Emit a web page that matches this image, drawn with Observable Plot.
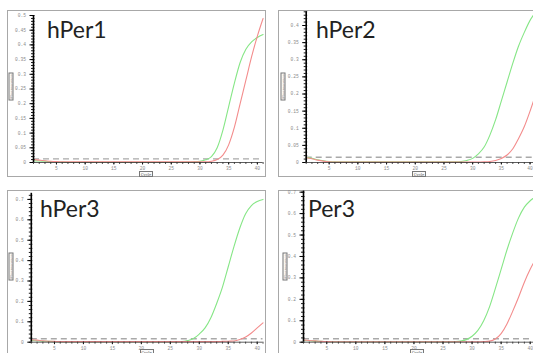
<!DOCTYPE html>
<html><head><meta charset="utf-8">
<script src="https://cdn.jsdelivr.net/npm/d3@7"></script>
<script src="https://cdn.jsdelivr.net/npm/@observablehq/plot@0.6"></script>
<style>
html,body{margin:0;padding:0;background:#fff;overflow:hidden;width:533px;height:353px;}
#root{position:relative;width:533px;height:353px;overflow:hidden;background:#fff;}
.panel{position:absolute;overflow:hidden;background:#fff;outline:1px solid #a8a8a8;outline-offset:-1px;}
.panel svg{position:absolute;left:0;top:0;background:transparent;}
.title{position:absolute;font-family:Lato,sans-serif;font-size:23px;line-height:23px;color:#222;white-space:nowrap;}
.ylab{position:absolute;width:28px;height:5px;box-sizing:border-box;border:0.6px solid #777;background:#fafafa;font-family:"DejaVu Serif",serif;font-size:3.6px;line-height:4px;text-align:center;color:#666;transform:rotate(-90deg);white-space:nowrap;overflow:hidden;}
.xlab{position:absolute;width:14px;height:6px;box-sizing:border-box;border:0.6px solid #777;background:#fafafa;font-family:"DejaVu Serif",serif;font-size:3.8px;line-height:5px;text-align:center;color:#555;white-space:nowrap;overflow:hidden;}
</style></head>
<body><div id="root"></div>
<script>
// ---- data ----
const cycles = [1,2,3,4,5,6,7,8,9,10,11,12,13,14,15,16,17,18,19,20,21,22,23,24,25,26,27,28,29,30,31,32,33,34,35,36,37,38,39,40,41];
const titles = ["hPer1","hPer2","hPer3","Per3"];
const xTicks = [5,10,15,20,25,30,35,40];
const yTicks1 = [0,0.05,0.1,0.15,0.2,0.25,0.3,0.35,0.4,0.45,0.5];
const yTicks2 = [0,0.05,0.1,0.15,0.2,0.25,0.3,0.35,0.4];
const yTicks3 = [0,0.1,0.2,0.3,0.4,0.5,0.6,0.7];
const yTicks4 = [0,0.1,0.2,0.3,0.4,0.5,0.6,0.7];
const thresholds = [0.0125, 0.0155, 0.017, 0.016];
const yMaxes = [0.5, 0.44, 0.73, 0.705];

const green1 = [0.006,0.005,0.004,0.003,0.002,0.0015,0.001,0.001,0.001,0.001,0.001,0.001,0.001,0.001,0.001,0.001,0.001,0.001,0.001,0.001,0.001,0.001,0.001,0.001,0.001,0.001,0.001,0.0015,0.002,0.004,0.009,0.02,0.05,0.11,0.19,0.27,0.34,0.385,0.41,0.425,0.435];
const red1   = [0.01,0.008,0.006,0.004,0.003,0.0025,0.002,0.002,0.002,0.002,0.002,0.002,0.002,0.002,0.002,0.002,0.002,0.002,0.002,0.002,0.002,0.002,0.002,0.002,0.002,0.002,0.002,0.002,0.002,0.002,0.002,0.004,0.01,0.025,0.06,0.12,0.2,0.28,0.36,0.43,0.49];
const green2 = [0.015,0.012,0.008,0.005,0.003,0.002,0.002,0.002,0.002,0.002,0.002,0.002,0.002,0.002,0.002,0.002,0.002,0.002,0.002,0.002,0.002,0.002,0.002,0.002,0.002,0.002,0.002,0.003,0.006,0.012,0.025,0.045,0.08,0.125,0.18,0.235,0.29,0.34,0.38,0.415,0.44];
const red2   = [0.014,0.011,0.007,0.004,0.002,0.001,0.001,0.001,0.001,0.001,0.001,0.001,0.001,0.001,0.001,0.001,0.001,0.001,0.001,0.001,0.001,0.001,0.001,0.001,0.001,0.001,0.001,0.001,0.001,0.001,0.0015,0.002,0.003,0.006,0.012,0.022,0.04,0.07,0.105,0.15,0.2];
const green3 = [0.008,0.007,0.005,0.004,0.003,0.002,0.002,0.002,0.002,0.002,0.002,0.002,0.002,0.002,0.002,0.002,0.002,0.002,0.002,0.002,0.002,0.002,0.002,0.002,0.002,0.0025,0.003,0.008,0.018,0.04,0.07,0.12,0.19,0.27,0.37,0.47,0.56,0.63,0.67,0.69,0.70];
const red3   = [0.012,0.01,0.007,0.005,0.004,0.003,0.003,0.003,0.003,0.003,0.003,0.003,0.003,0.003,0.003,0.003,0.003,0.003,0.003,0.003,0.003,0.003,0.003,0.003,0.003,0.003,0.003,0.003,0.003,0.003,0.003,0.003,0.003,0.004,0.005,0.006,0.013,0.025,0.045,0.07,0.095];
const green4 = [0.008,0.007,0.005,0.004,0.003,0.002,0.002,0.002,0.002,0.002,0.002,0.002,0.002,0.002,0.002,0.002,0.002,0.002,0.002,0.002,0.002,0.002,0.002,0.002,0.002,0.002,0.003,0.005,0.012,0.028,0.055,0.10,0.165,0.25,0.34,0.43,0.51,0.58,0.63,0.66,0.68];
const red4   = [0.01,0.008,0.006,0.004,0.003,0.002,0.002,0.002,0.002,0.002,0.002,0.002,0.002,0.002,0.002,0.002,0.002,0.002,0.002,0.002,0.002,0.002,0.002,0.002,0.002,0.002,0.002,0.002,0.002,0.002,0.002,0.003,0.005,0.015,0.04,0.085,0.145,0.21,0.28,0.34,0.39];

const greens = [green1, green2, green3, green4];
const reds = [red1, red2, red3, red4];
const yTicksAll = [yTicks1, yTicks2, yTicks3, yTicks4];

// ---- layout (pixels in page) ----
const layout = [
  {fx:7,   fy:10,  fw:259, fh:167, x1:33,    x41:262.6, y0:162,   yTop:15,    tx:47,  tb:38,  fl:[10.5,86],  cl:[146,173.5]},
  {fx:278, fy:10,  fw:262, fh:167, x1:305.7, x41:535.3, y0:162,   yTop:11.3,  tx:316, tb:38,  fl:[282.5,86], cl:[419,174]},
  {fx:7,   fy:190, fw:259, fh:172, x1:30.8,  x41:262.5, y0:341.7, yTop:192.8, tx:40,  tb:217, fl:[10.5,266], cl:[146.5,351.5]},
  {fx:278, fy:190, fw:262, fh:172, x1:303,   x41:535.5, y0:341.7, yTop:190.6, tx:308, tb:217, fl:[285,266],  cl:[417,351.5]}
];

const root = document.getElementById("root");
const fmt = d => String(+d.toFixed(2));

layout.forEach((L, i) => {
  const div = document.createElement("div");
  div.className = "panel";
  Object.assign(div.style, {left: L.fx + "px", top: L.fy + "px", width: L.fw + "px", height: L.fh + "px"});
  root.appendChild(div);

  const rowsG = cycles.map((c, k) => ({cycle: c, value: greens[i][k]}));
  const rowsR = cycles.map((c, k) => ({cycle: c, value: reds[i][k]}));

  const yMax = yMaxes[i];
  const ymStep = yMax > 0.6 ? 0.02 : 0.01;
  const minorY = d3.range(0, yMax + 1e-9, ymStep);

  const svg = Plot.plot({
    width: L.fw,
    height: L.fh,
    marginLeft: L.x1 - L.fx,
    marginRight: L.fw - (L.x41 - L.fx),
    marginTop: L.yTop - L.fy,
    marginBottom: L.fh - (L.y0 - L.fy),
    style: {background: "transparent", fontFamily: "'Liberation Mono', monospace"},
    x: {domain: [1, 41]},
    y: {domain: [0, yMax]},
    marks: [
      Plot.ruleY([thresholds[i]], {stroke: "#a9a9a9", strokeWidth: 1.4, strokeDasharray: "6,4"}),
      Plot.line(rowsG, {x: "cycle", y: "value", stroke: "#86e686", strokeWidth: 1.1, curve: "monotone-x"}),
      Plot.line(rowsR, {x: "cycle", y: "value", stroke: "#f38c8c", strokeWidth: 1.1, curve: "monotone-x"}),
      Plot.axisY(minorY, {tickSize: 2, tickFormat: () => "", label: null, stroke: "#000", strokeWidth: 0.9}),
      Plot.axisY(minorY, {tickSize: -1.5, tickFormat: () => "", label: null, stroke: "#000", strokeWidth: 0.9}),
      Plot.axisY(yTicksAll[i], {tickSize: 3.5, tickPadding: 4, tickFormat: fmt, label: null, fontSize: 4.6, stroke: "#000", fill: "#8a8a8a"}),
      Plot.axisX(cycles, {tickSize: 2, tickFormat: () => "", label: null, stroke: "#222", strokeWidth: 0.8}),
      Plot.axisX(xTicks, {tickSize: 2.5, tickPadding: 2, tickFormat: fmt, label: null, fontSize: 4.6, stroke: "#111", fill: "#8a8a8a"}),
      Plot.ruleX([1], {stroke: "#000", strokeWidth: 1.6}),
      Plot.ruleY([0], {stroke: "#333", strokeWidth: 0.8})
    ]
  });
  div.appendChild(svg);

  const t = document.createElement("div");
  t.className = "title";
  t.textContent = titles[i];
  Object.assign(t.style, {left: L.tx + "px", top: (L.tb - 20.4) + "px"});
  root.appendChild(t);

  const f = document.createElement("div");
  f.className = "ylab";
  f.textContent = "Fluorescence";
  Object.assign(f.style, {left: (L.fl[0] - 14) + "px", top: (L.fl[1] - 2.5) + "px"});
  root.appendChild(f);

  const cy = document.createElement("div");
  cy.className = "xlab";
  cy.textContent = "Cycle";
  Object.assign(cy.style, {left: (L.cl[0] - 7) + "px", top: (L.cl[1] - 3) + "px"});
  root.appendChild(cy);
});
</script>
</body></html>
